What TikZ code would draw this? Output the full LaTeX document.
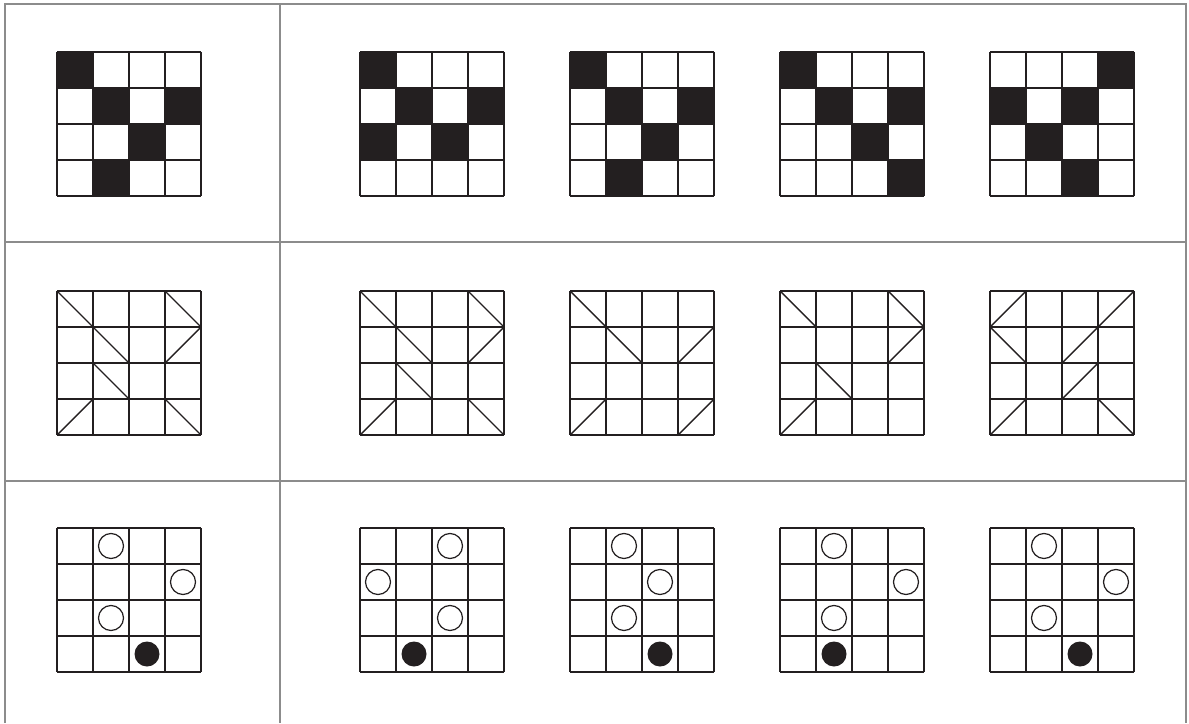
\documentclass[tikz,border=0pt]{standalone}
\usepackage{tikz}
\definecolor{ink}{HTML}{231F20}
\definecolor{rule}{HTML}{8C8C8C}

% 4x4 board with its top-left corner at (#1,#2)
\newcommand{\board}[2]{%
  \foreach \k in {0,...,4}{
    \draw[gridline] (#1+36*\k,#2) -- (#1+36*\k,#2+144);
    \draw[gridline] (#1,#2+36*\k) -- (#1+144,#2+36*\k);
  }}
% boards of the three rows
\newcommand{\blackcells}[3]{%
  \foreach \i/\j in {#3} \fill[cellfill] (#1+36*\j,#2+36*\i) rectangle ++(36,36);
  \board{#1}{#2}}
\newcommand{\slashcells}[4]{%
  \board{#1}{#2}
  \foreach \i/\j in {#3} \draw[gridline] (#1+36*\j,#2+36*\i) -- ++(36,36);
  \foreach \i/\j in {#4} \draw[gridline] (#1+36*\j,#2+36*\i+36) -- ++(36,-36);}
\newcommand{\dotcells}[4]{%
  \board{#1}{#2}
  \foreach \i/\j in {#3} \draw[ring] (#1+36*\j+18,#2+36*\i+18) circle[radius=0.25cm];
  \foreach \i/\j in {#4} \fill[cellfill] (#1+36*\j+18,#2+36*\i+18) circle[radius=0.25cm];}

\begin{document}
\begin{tikzpicture}[
  x=0.02cm, y=-0.02cm,
  frame/.style={draw=rule, line width=1.4pt},
  gridline/.style={draw=ink, line width=0.8pt},
  cellfill/.style={fill=ink},
  ring/.style={draw=ink, line width=0.7pt}
]
\useasboundingbox (0,0) rectangle (1189,723);

% table frame
\draw[frame] (5,723) -- (5,4) -- (1186,4) -- (1186,723);
\draw[frame] (280,4) -- (280,723);
\draw[frame] (5,242) -- (1186,242);
\draw[frame] (5,481) -- (1186,481);

% row 1: black squares
\blackcells{57}{52}{0/0,1/1,1/3,2/2,3/1}
\blackcells{360}{52}{0/0,1/1,1/3,2/0,2/2}
\blackcells{570}{52}{0/0,1/1,1/3,2/2,3/1}
\blackcells{780}{52}{0/0,1/1,1/3,2/2,3/3}
\blackcells{990}{52}{0/3,1/0,1/2,2/1,3/2}

% row 2: diagonals
\slashcells{57}{291}{0/0,0/3,1/1,2/1,3/3}{1/3,3/0}
\slashcells{360}{291}{0/0,0/3,1/1,2/1,3/3}{1/3,3/0}
\slashcells{570}{291}{0/0,1/1}{1/3,3/0,3/3}
\slashcells{780}{291}{0/0,0/3,2/1}{1/3,3/0}
\slashcells{990}{291}{1/0,3/3}{0/0,0/3,1/2,2/2,3/0}

% row 3: circles
\dotcells{57}{528}{0/1,1/3,2/1}{3/2}
\dotcells{360}{528}{0/2,1/0,2/2}{3/1}
\dotcells{570}{528}{0/1,1/2,2/1}{3/2}
\dotcells{780}{528}{0/1,1/3,2/1}{3/1}
\dotcells{990}{528}{0/1,1/3,2/1}{3/2}
\end{tikzpicture}
\end{document}
